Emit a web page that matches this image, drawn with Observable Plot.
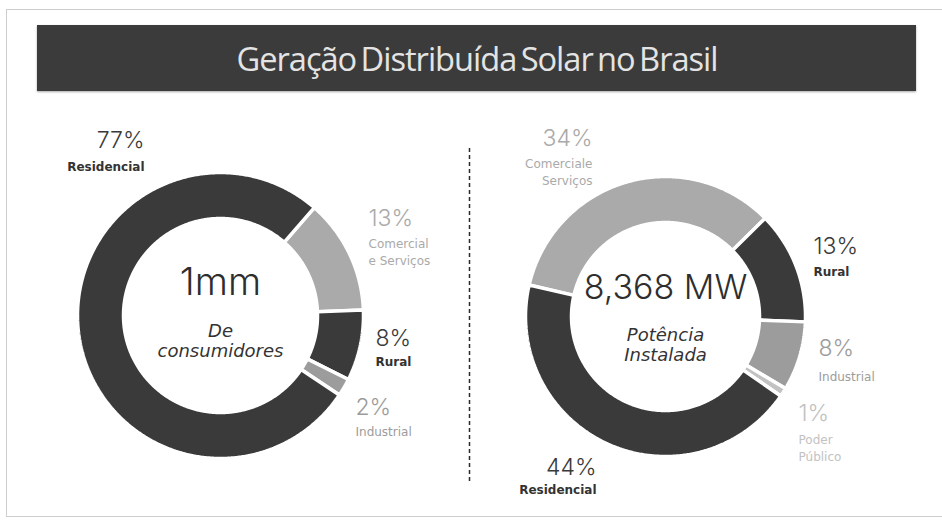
<!DOCTYPE html>
<html><head><meta charset="utf-8">
<script src="https://cdn.jsdelivr.net/npm/d3@7"></script>
<script src="https://cdn.jsdelivr.net/npm/@observablehq/plot@0.6"></script>
<style>
body{margin:0;background:#fff;}
#wrap{position:relative;width:942px;height:522px;overflow:hidden;background:#fff;}
#frame{position:absolute;left:6px;top:9px;width:950px;height:508px;border:1.5px solid #cdcdcd;box-sizing:border-box;}
#title{position:absolute;left:37px;top:25px;width:879px;height:66px;background:#3b3b3b;display:flex;align-items:center;justify-content:center;box-shadow:0 1px 2px rgba(0,0,0,0.35);}
#tt{color:#e4e4e4;font-size:32px;font-family:"Open Sans",sans-serif;letter-spacing:-1px;word-spacing:-3px;white-space:nowrap;display:inline-block;transform-origin:center;}
#chart{position:absolute;left:0;top:100px;}
</style></head><body>
<div id="wrap"><div id="frame"></div><div id="title"><span id="tt">Geração Distribuída Solar no Brasil</span></div><div id="chart"></div></div>
<script>
// ---- data ----
const categories = ["Residencial", "Comercial e Serviços", "Rural", "Industrial", "Poder Público"];
const categoryColors = ["#3a3a3a", "#aaaaaa", "#3a3a3a", "#9c9c9c", "#c2c2c2"];

const consumidoresCats = ["Comercial e Serviços", "Rural", "Industrial", "Residencial"];
const consumidoresShare = [13, 8, 2, 77];
const consumidoresNames = ["Comercial\ne Serviços", "Rural", "Industrial", "Residencial"];

const potenciaCats = ["Comercial e Serviços", "Rural", "Industrial", "Poder Público", "Residencial"];
const potenciaShare = [34, 13, 8, 1, 44];
const potenciaNames = ["Comerciale\nServiços", "Rural", "Industrial", "Poder\nPúblico", "Residencial"];

const centerValues = ["1mm", "8,368 MW"];
const centerCaptions = ["De\nconsumidores", "Potência\nInstalada"];

// ---- layout ----
const W = 942, H = 415;
const donuts = [
  {key: "c", cats: consumidoresCats, values: consumidoresShare, names: consumidoresNames, cx: 220, cy: 215, R: 143, r: 97, start: 41},
  {key: "p", cats: potenciaCats, values: potenciaShare, names: potenciaNames, cx: 665, cy: 216, R: 140, r: 94, start: -77}
];
// label anchor positions (pct line y, name block y), per donut / slice order
const labelLayout = {
  c: [
    {x: 368, py: 118, ny: 150.5, anchor: "start"},
    {x: 375, py: 238, ny: 262, anchor: "start"},
    {x: 355, py: 307, ny: 330, anchor: "start"},
    {x: 144, py: 40, ny: 66.5, anchor: "end"}
  ],
  p: [
    {x: 592, py: 38, ny: 71, anchor: "end"},
    {x: 813, py: 146, ny: 172, anchor: "start"},
    {x: 818, py: 248, ny: 275, anchor: "start"},
    {x: 798, py: 313, ny: 346.5, anchor: "start"},
    {x: 596, py: 367, ny: 390, anchor: "end"}
  ]
};
const centerLayout = [{vy: 182, cy: 240, size: 38}, {vy: 188, cy: 244, size: 34}];
const divider = {x: 469, y1: 48, y2: 382};

// ---- build ring polygons from the shares ----
const ringPts = [];
const labels = [];
donuts.forEach((d, di) => {
  const total = d3.sum(d.values);
  let cum = 0;
  d.values.forEach((v, i) => {
    const a0 = d.start + 360 * cum / total;
    const a1 = d.start + 360 * (cum + v) / total;
    cum += v;
    const id = d.key + i;
    const n = Math.max(2, Math.ceil((a1 - a0) / 0.5));
    const pts = [];
    for (let k = 0; k <= n; k++) {
      const t = (a0 + (a1 - a0) * k / n) * Math.PI / 180;
      pts.push({id, cat: d.cats[i], x: d.cx + d.R * Math.sin(t), y: d.cy - d.R * Math.cos(t)});
    }
    for (let k = n; k >= 0; k--) {
      const t = (a0 + (a1 - a0) * k / n) * Math.PI / 180;
      pts.push({id, cat: d.cats[i], x: d.cx + d.r * Math.sin(t), y: d.cy - d.r * Math.cos(t)});
    }
    pts.push({...pts[0]});
    ringPts.push(...pts);
    const L = labelLayout[d.key][i];
    labels.push({cat: d.cats[i], pct: v + "%", name: d.names[i], ...L});
  });
});
const centers = donuts.map((d, i) => ({x: d.cx, value: centerValues[i], caption: centerCaptions[i], ...centerLayout[i]}));

const dark = c => c === "Residencial" || c === "Rural";
const textMarks = [];
for (const anchor of ["start", "end"]) {
  const sub = labels.filter(l => l.anchor === anchor);
  textMarks.push(
    Plot.text(sub, {x: "x", y: "py", text: "pct", fill: "cat", textAnchor: anchor, fontSize: 23, fontWeight: 300, fontFamily: "Inter", letterSpacing: "-0.5px"}),
    Plot.text(sub.filter(l => dark(l.cat)), {x: "x", y: "ny", text: "name", fill: "#333", textAnchor: anchor, fontSize: 12, fontWeight: 700, fontFamily: "DejaVu Sans", letterSpacing: "0.1px"}),
    Plot.text(sub.filter(l => !dark(l.cat)), {x: "x", y: "ny", text: "name", fill: "cat", textAnchor: anchor, fontSize: 12, fontWeight: 400, fontFamily: "DejaVu Sans", letterSpacing: "0.4px", lineHeight: 1.4})
  );
}

const chart = Plot.plot({
  width: W, height: H,
  margin: 0,
  x: {domain: [0, W], range: [0, W], axis: null},
  y: {domain: [0, H], range: [0, H], axis: null},
  color: {domain: categories, range: categoryColors},
  marks: [
    Plot.line(ringPts, {x: "x", y: "y", z: "id", fill: "cat", stroke: "white", strokeWidth: 3.5, strokeLinejoin: "miter", curve: "linear"}),
    Plot.ruleX([divider], {x: "x", y1: "y1", y2: "y2", stroke: "#2a2a2a", strokeWidth: 1.5, strokeDasharray: "4,3"}),
    Plot.text(centers, {x: "x", y: "vy", text: "value", fill: "#2e2e2e", fontSize: "size", fontWeight: 300, fontFamily: "Inter", letterSpacing: "-1px"}),
    Plot.text(centers, {x: "x", y: "cy", text: "caption", fill: "#333", fontSize: 18, fontStyle: "italic", fontWeight: 400, fontFamily: "DejaVu Sans", lineHeight: 1.15, letterSpacing: "0.3px"}),
    ...textMarks
  ]
});
document.getElementById("chart").appendChild(chart);

// fit condensed title to reference width
const tt = document.getElementById("tt");
const w = tt.getBoundingClientRect().width;
tt.style.transform = `scaleX(${481 / w})`;
</script>
</body></html>
